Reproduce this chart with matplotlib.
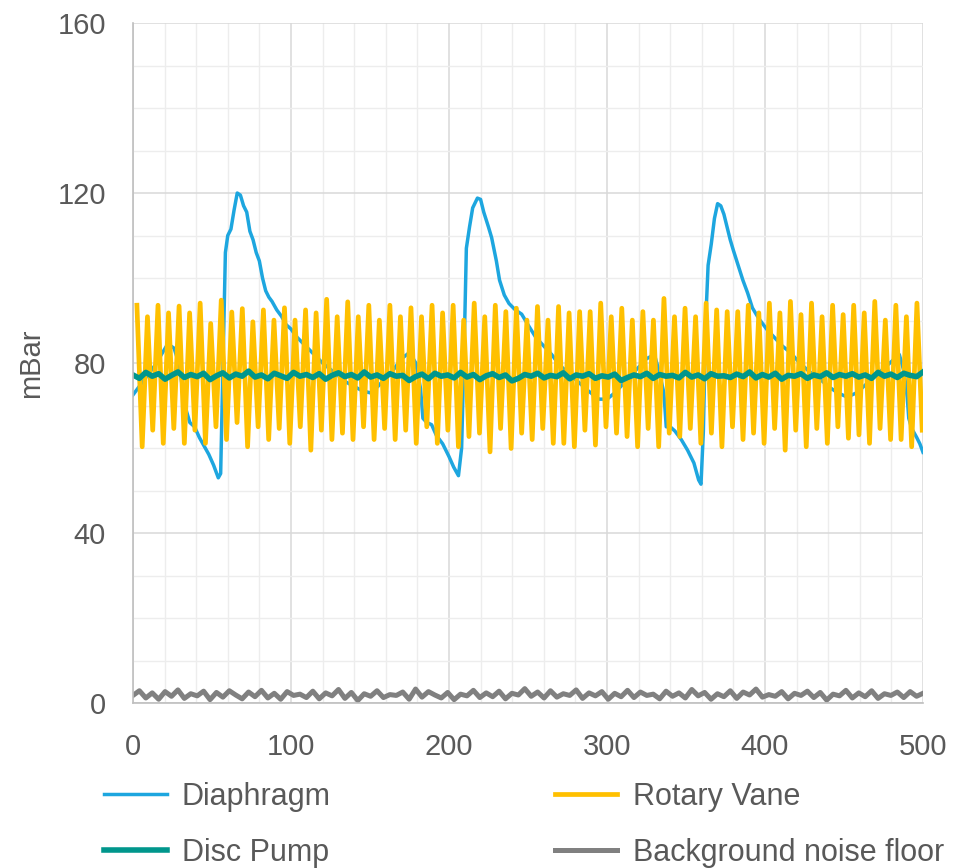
import matplotlib
matplotlib.use("Agg")
import matplotlib.pyplot as plt
from matplotlib.ticker import MultipleLocator
import numpy as np

plt.rcParams['font.family'] = ['Liberation Sans', 'DejaVu Sans']

# Rotary vane: alternating peak / trough values
rv_peaks = [93.6, 90.9, 93.6, 91.8, 93.4, 91.8, 94.1, 89.3, 94.8, 92.0,
            92.8, 89.7, 92.5, 90.1, 93.0, 90.1, 92.5, 91.8, 95.0, 90.9,
            94.4, 90.9, 93.6, 90.1, 93.6, 90.9, 93.0, 90.9, 93.6, 91.8,
            93.6, 90.1, 94.1, 90.9, 93.6, 92.1, 92.9, 90.1, 93.3, 90.1,
            93.3, 91.8, 92.1, 92.1, 94.1, 90.9, 92.9, 90.1, 92.1, 90.1,
            95.2, 90.9, 92.9, 90.9, 94.1, 92.5, 92.1, 92.1, 93.6, 91.8,
            94.1, 91.8, 94.5, 91.4, 94.1, 90.9, 93.6, 91.4, 93.6, 91.8,
            94.5, 90.1, 93.6, 90.9, 94.1]
rv_troughs = [60.3, 64.2, 61.1, 64.6, 61.1, 64.2, 61.1, 65.0, 62.0, 66.0,
              60.3, 65.0, 62.0, 64.6, 61.1, 65.0, 59.5, 64.2, 62.0, 63.5,
              62.0, 65.0, 62.0, 64.6, 62.0, 64.2, 61.1, 65.0, 61.1, 64.2,
              60.3, 62.7, 63.5, 59.1, 64.6, 59.9, 63.5, 62.0, 64.6, 61.1,
              61.1, 60.3, 64.2, 60.7, 65.0, 63.5, 62.7, 60.3, 64.6, 60.3,
              63.5, 62.7, 64.6, 61.1, 63.5, 60.3, 65.0, 62.0, 63.5, 61.1,
              64.6, 59.5, 64.2, 60.3, 64.6, 61.1, 65.0, 62.3, 63.1, 61.1,
              64.6, 62.0, 62.0, 60.3, 64.2]

# Disc pump trace
disc_pump = [77.2, 76.4, 77.8, 76.9, 77.5, 76.2, 77.1, 77.9, 76.6, 77.3, 76.8, 77.6, 76.1, 77.0,
             77.7, 76.5, 77.4, 76.9, 78.1, 76.7, 77.2, 76.3, 77.6, 77.0, 76.4, 77.8, 76.9, 77.3,
             76.6, 77.5, 76.2, 77.1, 77.7, 76.8, 77.3, 76.5, 77.9, 76.7, 77.2, 76.4, 77.5, 76.9,
             77.1, 75.9, 76.8, 77.4, 76.3, 77.6, 76.9, 77.2, 76.5, 77.8, 76.7, 77.3, 76.1, 77.0,
             77.5, 76.6, 77.2, 75.8, 76.4, 77.3, 76.9, 77.6, 76.5, 77.1, 76.8, 77.7, 76.3, 77.2,
             76.9, 77.5, 76.4, 77.0, 76.7, 77.4, 75.9, 76.6, 77.2, 76.8, 77.6, 76.4, 77.3, 76.9,
             77.1, 76.5, 77.8, 76.7, 77.2, 76.3, 77.5, 76.9, 77.0, 76.6, 77.4, 76.8, 77.9, 76.5,
             77.3, 76.7, 77.6, 76.2, 77.1, 76.9, 77.5, 76.4, 77.2, 76.8, 77.7, 76.6, 77.3, 76.9,
             77.5, 76.7, 77.2, 76.4, 77.8, 76.9, 77.4, 76.6, 77.6, 77.1, 76.8, 77.9]

# Background noise floor
noise_floor = [1.8, 2.9, 1.2, 2.4, 0.9, 2.7, 1.6, 3.1, 1.1, 2.2, 1.7, 2.8, 0.8, 2.5,
               1.4, 2.9, 1.9, 1.0, 2.6, 1.5, 3.0, 1.2, 2.3, 0.9, 2.7, 1.8, 2.1, 1.3,
               2.8, 1.0, 2.4, 1.7, 3.2, 1.1, 2.5, 0.6, 2.2, 1.6, 2.9, 1.3, 2.0, 1.8,
               2.6, 0.9, 3.3, 1.4, 2.7, 1.9, 1.2, 2.5, 0.8, 2.1, 1.7, 3.0, 1.3, 2.4,
               1.5, 2.8, 1.0, 2.3, 1.9, 3.4, 1.6, 2.6, 1.2, 2.9, 1.4, 2.2, 1.8, 3.1,
               1.1, 2.4, 1.7, 2.7, 0.9, 2.3, 1.5, 3.0, 1.3, 2.6, 1.8, 2.1, 1.0, 2.8,
               1.6, 2.4, 1.2, 3.2, 1.7, 2.5, 0.9, 2.2, 1.5, 2.9, 1.1, 2.6, 1.9, 3.3,
               1.4, 2.0, 1.6, 2.7, 1.0, 2.3, 1.8, 2.8, 1.3, 2.5, 0.7, 2.1, 1.7, 3.0,
               1.2, 2.4, 1.5, 2.9, 1.1, 2.2, 1.8, 2.6, 1.3, 2.7, 1.6, 2.3]

# Diaphragm trace (x, mBar)
dia_x = [0, 3, 6, 10, 14, 18, 22, 26, 29, 31, 33, 34, 36, 39, 42, 45, 48, 51, 54, 55.5,
         57, 58.5, 60, 62, 64, 66, 68, 70, 72, 74, 76, 78, 80, 82, 84, 86, 88, 91, 94, 97,
         100, 104, 108, 112, 116, 120, 125, 130, 135, 140, 145, 150, 155, 160, 165, 170, 175,
         179, 182, 183.5, 186, 189, 192, 196, 200, 203, 206, 208, 210, 211, 213, 215, 218,
         220, 222, 225, 227, 230, 232, 235, 238, 242, 246, 250, 255, 260, 265, 270, 276,
         282, 288, 295, 300, 305, 310, 315, 320, 325, 330, 333, 336, 337.5, 340, 343, 347,
         351, 355, 358, 359.5, 361, 362.5, 364, 366, 368, 370, 372, 374, 376, 378, 380, 383,
         386, 389, 392, 396, 401, 406, 411, 416, 422, 428, 434, 440, 446, 452, 458, 464,
         470, 476, 482, 485, 488, 490, 491, 493, 496, 498, 500]
dia_y = [72.5, 74, 75.5, 77.5, 79.5, 82, 84.5, 83.5, 80, 75, 70, 68.5, 66, 65, 62.5, 60.5, 58.5, 56, 53, 54,
         80, 106, 110, 111.5, 116, 120, 119.5, 117, 115.5, 111, 109, 106, 104, 100, 97, 95.5, 94.5, 92.5, 91, 89,
         88, 86, 84.5, 83, 81.5, 80, 78.5, 77, 75.5, 74.5, 73.5, 73, 74.5, 76.5, 78.5, 81, 82.5,
         80, 74, 67, 66, 65.5, 63, 61, 58, 55.5, 53.5, 60, 90, 107, 112, 116.5, 118.8,
         118.5, 115.5, 112, 109.5, 104, 99.5, 96, 94, 92.5, 91.5, 89, 86, 84, 82, 79.5, 77.5,
         75.5, 73.5, 71.5, 71.5, 73, 75, 77, 79, 81, 82, 78, 73, 65, 65, 64, 62,
         59.5, 56.5, 52.5, 51.5, 64, 90, 103, 108, 114, 117.5, 117, 115, 112, 109, 106.5, 103,
         99.5, 96.5, 93, 90.5, 88, 86, 84, 82.5, 80, 78, 76.5, 74.5, 73, 72, 73, 75,
         77, 79, 81, 82, 78, 72, 67, 64.5, 62.5, 61, 59]

# interleave rotary vane peaks and troughs
rv_y = np.ravel(np.column_stack([rv_peaks, rv_troughs]))
rv_x = np.linspace(2.5, 499.5, len(rv_y))
dp_x = np.linspace(0, 500, len(disc_pump))
nf_x = np.linspace(0, 500, len(noise_floor))

fig = plt.figure(figsize=(9.67, 8.68), dpi=100)
ax = fig.add_axes([0.1375, 0.19, 0.817, 0.7835])

ax.plot(dia_x, dia_y, color='#1DA6DF', lw=2.5, label='Diaphragm')
ax.plot(rv_x, rv_y, color='#FFC000', lw=3.4, solid_joinstyle='round', label='Rotary Vane')
ax.plot(dp_x, disc_pump, color='#00968C', lw=4.0, label='Disc Pump')
ax.plot(nf_x, noise_floor, color='#808080', lw=3.6, label='Background noise floor')

ax.set_xlim(0, 500)
ax.set_ylim(0, 160)
ax.xaxis.set_major_locator(MultipleLocator(100))
ax.xaxis.set_minor_locator(MultipleLocator(20))
ax.yaxis.set_major_locator(MultipleLocator(40))
ax.yaxis.set_minor_locator(MultipleLocator(10))
ax.grid(which='major', color='#D9D9D9', lw=1.1)
ax.grid(which='minor', color='#EDEDED', lw=1.0)
ax.set_axisbelow(True)
for s in ['top', 'right']:
    ax.spines[s].set_visible(False)
for s in ['left', 'bottom']:
    ax.spines[s].set_color('#BFBFBF')
    ax.spines[s].set_linewidth(1.2)
ax.tick_params(which='both', length=0)
ax.tick_params(axis='y', pad=19.5, labelsize=21, labelcolor='#595959')
ax.tick_params(axis='x', pad=21.5, labelsize=21, labelcolor='#595959')
ax.set_ylabel('mBar', fontsize=21, color='#595959', labelpad=9)

h, l = ax.get_legend_handles_labels()
order = [0, 2, 1, 3]
fig.legend([h[i] for i in order], [l[i] for i in order], ncol=2,
           loc='lower left', bbox_to_anchor=(0.0796, -0.0315), frameon=False,
           fontsize=22, labelcolor='#595959', handlelength=2.03, handletextpad=0.5,
           columnspacing=7.35, labelspacing=0.85)

fig.savefig('out.png', dpi=100)
